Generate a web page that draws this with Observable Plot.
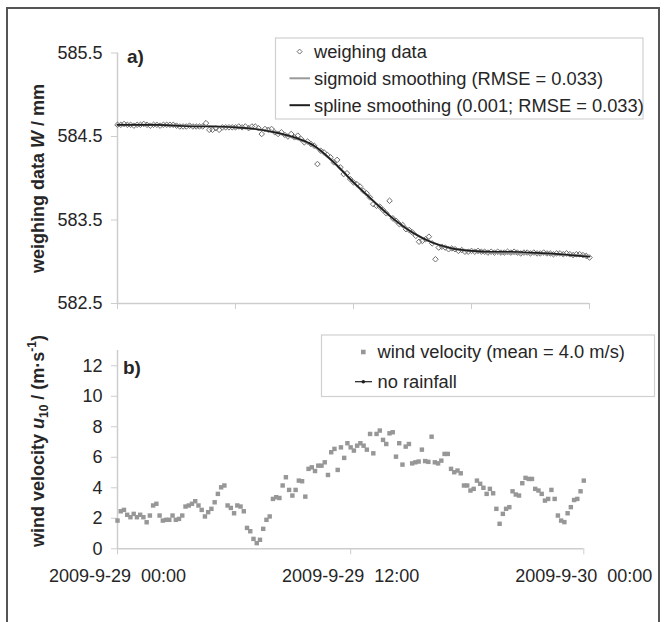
<!DOCTYPE html>
<html><head><meta charset="utf-8">
<script src="https://cdn.jsdelivr.net/npm/d3@7"></script>
<script src="https://cdn.jsdelivr.net/npm/@observablehq/plot@0.6"></script>
<style>
html,body{margin:0;padding:0;background:#fff;}
#wrap{position:relative;width:664px;height:622px;overflow:hidden;font-family:"Liberation Sans",Arial,sans-serif;background:#fff;}
#wrap svg{position:absolute;left:0;top:0;background:transparent !important;overflow:visible;}
#frame{position:absolute;left:6px;top:7px;width:650px;height:700px;border:2px solid #555;border-bottom:none;pointer-events:none;z-index:5;}
</style></head><body><div id="wrap"><div id="frame"></div></div>
<script>
// ---------- data ----------
const stepHours = 1 / 6; // 10-minute records
const weighingValues = [
584.64,584.64,584.65,584.64,584.64,584.63,
584.64,584.64,584.65,584.64,584.63,584.64,
584.64,584.63,584.64,584.64,584.64,584.64,
584.63,584.62,584.62,584.62,584.63,584.62,
584.62,584.62,584.62,584.66,584.58,584.58,
584.60,584.58,584.61,584.61,584.61,584.61,
584.61,584.62,584.61,584.62,584.60,584.62,
584.62,584.60,584.53,584.59,584.58,584.59,
584.55,584.53,584.55,584.52,584.50,584.53,
584.49,584.51,584.47,584.43,584.44,584.41,
584.39,584.17,584.33,584.31,584.28,584.25,
584.19,584.22,584.13,584.05,584.06,583.99,
583.95,583.93,583.90,583.85,583.82,583.77,
583.69,583.67,583.66,583.62,583.58,583.73,
583.52,583.49,583.45,583.44,583.39,583.38,
583.35,583.31,583.24,583.25,583.27,583.30,
583.22,583.03,583.17,583.18,583.17,583.15,
583.16,583.15,583.13,583.14,583.12,583.12,
583.13,583.12,583.13,583.12,583.12,583.11,
583.12,583.11,583.12,583.11,583.11,583.12,
583.11,583.12,583.11,583.10,583.11,583.11,
583.10,583.11,583.10,583.10,583.11,583.10,
583.10,583.09,583.10,583.10,583.09,583.10,
583.09,583.08,583.09,583.09,583.08,583.07,
583.05];
const curveHours = [0,1,2,3,4,5,6,7,8,9,10,11,12,13,14,15,16,17,18,19,20,21,22,23,24];
const sigmoidValues = [584.64,584.64,584.64,584.63,584.63,584.62,584.61,584.59,584.55,584.48,584.38,584.19,583.95,583.73,583.52,583.35,583.23,583.16,583.13,583.11,583.10,583.10,583.09,583.08,583.07];
const splineValues  = [584.64,584.64,584.64,584.63,584.62,584.62,584.61,584.59,584.55,584.49,584.39,584.19,583.95,583.73,583.52,583.35,583.23,583.16,583.13,583.12,583.12,583.11,583.10,583.08,583.06];
const windValues = [
1.85,2.46,2.55,2.23,2.07,2.29,2.07,2.23,2.07,1.74,2.18,2.84,
2.95,2.18,1.85,1.90,1.90,2.18,1.90,1.96,2.18,2.77,2.84,2.95,
3.12,2.84,2.55,2.12,2.40,2.62,3.05,3.60,4.03,4.15,2.84,2.68,
2.33,2.84,2.77,2.46,1.37,1.15,0.65,0.37,0.59,1.31,1.90,2.12,
3.27,3.38,3.33,4.15,4.69,3.86,3.49,3.86,4.47,4.43,3.42,5.24,
5.34,5.10,5.45,5.45,5.67,4.84,6.33,6.55,5.17,6.65,5.96,6.92,
6.65,6.44,6.76,6.92,6.76,6.50,7.53,6.26,7.53,7.75,7.14,6.87,
7.57,7.64,6.04,6.92,5.52,6.70,6.87,5.60,5.67,5.72,6.50,5.75,
5.70,7.35,5.67,5.60,5.78,6.22,6.22,5.24,5.02,5.13,4.95,4.15,
4.15,3.82,3.93,4.47,4.26,4.00,3.60,3.93,3.64,2.62,1.64,2.29,
2.62,2.73,3.77,3.56,3.49,4.30,4.65,4.58,4.58,3.93,3.82,3.60,
3.16,3.27,3.86,3.27,2.18,1.85,1.75,2.33,2.73,3.20,3.27,3.77,
4.47];
const weighYTicks = [582.5, 583.5, 584.5, 585.5];
const windYTicks = [0, 2, 4, 6, 8, 10, 12];
const topXTicks = [0, 6, 12, 18, 24];
const bottomXTicks = [0, 12, 24];
const xTickLabels = ["2009-9-29\u00a0\u00a000:00", "2009-9-29\u00a0\u00a012:00", "2009-9-30\u00a0\u00a000:00"];
const legendALabels = ["weighing data", "sigmoid smoothing (RMSE = 0.033)", "spline smoothing (0.001; RMSE = 0.033)"];
const legendBLabels = ["wind velocity (mean = 4.0 m/s)", "no rainfall"];

// ---------- tables ----------
const weighing = weighingValues.map((v, i) => ({t: i * stepHours, v}));
const wind = windValues.map((v, i) => ({t: i * stepHours, v}));
const sigmoid = curveHours.map((t, i) => ({t, v: sigmoidValues[i]}));
const spline = curveHours.map((t, i) => ({t, v: splineValues[i]}));

const W = 664, H = 622;
const FONT = '"Liberation Sans", Arial, sans-serif';
const AX = "#cdcdcd", TXT = "#262626";

const plotA = Plot.plot({
  width: W, height: H,
  marginLeft: 117, marginRight: W - 589, marginTop: 52.5, marginBottom: H - 303,
  x: {domain: [0, 24]},
  y: {domain: [582.5, 585.5]},
  style: {fontFamily: FONT, fontSize: "18px", color: TXT, background: "transparent"},
  marks: [
    Plot.ruleY([582.5], {stroke: AX, strokeWidth: 1.5}),
    Plot.ruleX([0], {stroke: AX, strokeWidth: 1.5}),
    Plot.axisY({ticks: weighYTicks, tickFormat: d => d.toFixed(1), tickSize: 6, tickPadding: 9, stroke: AX, fill: TXT, fontSize: 18, label: null}),
    Plot.axisX({ticks: topXTicks, tickFormat: () => "", tickSize: 6, stroke: AX, label: null}),
    Plot.dot(weighing, {x: "t", y: "v", symbol: "diamond2", r: 2.5, stroke: "#6e6e6e", strokeWidth: 1, fill: "none"}),
    Plot.line(sigmoid, {x: "t", y: "v", stroke: "#9a9a9a", strokeWidth: 2.2, curve: "monotone-x"}),
    Plot.line(spline, {x: "t", y: "v", stroke: "#1e1e1e", strokeWidth: 1.7, curve: "monotone-x"})
  ]
});

const plotB = Plot.plot({
  width: W, height: H,
  marginLeft: 117, marginRight: W - 583.3, marginTop: 350, marginBottom: H - 548.3,
  x: {domain: [0, 24]},
  y: {domain: [0, 13]},
  style: {fontFamily: FONT, fontSize: "18px", color: TXT, background: "transparent"},
  marks: [
    Plot.ruleY([0], {stroke: AX, strokeWidth: 1.5}),
    Plot.ruleX([0], {stroke: AX, strokeWidth: 1.5}),
    Plot.axisY({ticks: windYTicks, tickFormat: d => String(d), tickSize: 6, tickPadding: 9, stroke: AX, fill: TXT, fontSize: 18, label: null}),
    Plot.axisX({ticks: bottomXTicks, tickFormat: d => xTickLabels[bottomXTicks.indexOf(d)], tickSize: 6, tickPadding: 14, stroke: AX, fill: TXT, fontSize: 18, label: null}),
    Plot.dot(wind, {x: "t", y: "v", symbol: "square", r: 2.5, fill: "#979797"})
  ]
});

const wrap = document.getElementById("wrap");
wrap.insertBefore(plotB, wrap.firstChild);
wrap.insertBefore(plotA, wrap.firstChild);
[plotA, plotB].forEach(s => { s.style.background = "transparent"; });

// ---------- annotations ----------
function txt(sel, x, y, s, opts = {}) {
  return sel.append("text").attr("x", x).attr("y", y).attr("font-family", FONT)
    .attr("font-size", opts.size || 18).attr("font-weight", opts.weight || "normal")
    .attr("text-anchor", "start")
    .attr("fill", TXT).style("white-space", "pre").text(s);
}
const sa = d3.select(plotA), sb = d3.select(plotB);

// panel labels
txt(sa, 127, 63, "a)", {weight: "bold", size: 19});
txt(sb, 123, 374, "b)", {weight: "bold", size: 19});

// y titles
const ta = sa.append("text").attr("transform", "translate(44,178.5) rotate(-90)")
  .attr("text-anchor", "middle").attr("font-family", FONT).attr("font-size", 18)
  .attr("font-weight", "bold").attr("fill", TXT).style("white-space", "pre");
ta.append("tspan").text("weighing data ");
ta.append("tspan").attr("font-style", "italic").text("W");
ta.append("tspan").text(" / mm");

const tb = sb.append("text").attr("transform", "translate(44,441) rotate(-90)")
  .attr("text-anchor", "middle").attr("font-family", FONT).attr("font-size", 18)
  .attr("font-weight", "bold").attr("fill", TXT).style("white-space", "pre");
tb.append("tspan").text("wind velocity ");
tb.append("tspan").attr("font-style", "italic").text("u");
tb.append("tspan").attr("font-size", 12).attr("dy", 4).text("10");
tb.append("tspan").attr("dy", -4).text(" / (m·s");
tb.append("tspan").attr("font-size", 12).attr("dy", -8).text("-1");
tb.append("tspan").attr("dy", 8).text(")");

// legend a
const la = sa.append("g");
la.append("rect").attr("x", 275.5).attr("y", 38).attr("width", 367.5).attr("height", 81)
  .attr("fill", "white").attr("stroke", "#d0d0d0").attr("stroke-width", 1.2);
const rowsA = [51.6, 78.3, 105.2];
la.append("path").attr("d", d3.symbol(d3.symbolDiamond2, 16)())
  .attr("transform", `translate(299.6,${rowsA[0]})`).attr("fill", "none").attr("stroke", "#6e6e6e");
la.append("line").attr("x1", 289.5).attr("x2", 310).attr("y1", rowsA[1]).attr("y2", rowsA[1]).attr("stroke", "#9a9a9a").attr("stroke-width", 2);
la.append("line").attr("x1", 289.5).attr("x2", 310).attr("y1", rowsA[2]).attr("y2", rowsA[2]).attr("stroke", "#1e1e1e").attr("stroke-width", 2);
legendALabels.forEach((s, i) => txt(la, 314, rowsA[i] + 6.3, s, {size: 18.3}));

// legend b
const lb = sb.append("g");
lb.append("rect").attr("x", 321.5).attr("y", 335).attr("width", 333).attr("height", 61.5)
  .attr("fill", "white").attr("stroke", "#d0d0d0").attr("stroke-width", 1.2);
const rowsB = [352, 381.7];
lb.append("rect").attr("x", 361).attr("y", rowsB[0] - 2.3).attr("width", 4.6).attr("height", 4.6).attr("fill", "#979797");
lb.append("line").attr("x1", 355).attr("x2", 372).attr("y1", rowsB[1]).attr("y2", rowsB[1]).attr("stroke", "#1e1e1e").attr("stroke-width", 1.2);
lb.append("circle").attr("cx", 363.3).attr("cy", rowsB[1]).attr("r", 1.8).attr("fill", "#1e1e1e");
legendBLabels.forEach((s, i) => txt(lb, 377.5, rowsB[i] + 6.3, s, {size: 18.3}));
</script>
</body></html>
